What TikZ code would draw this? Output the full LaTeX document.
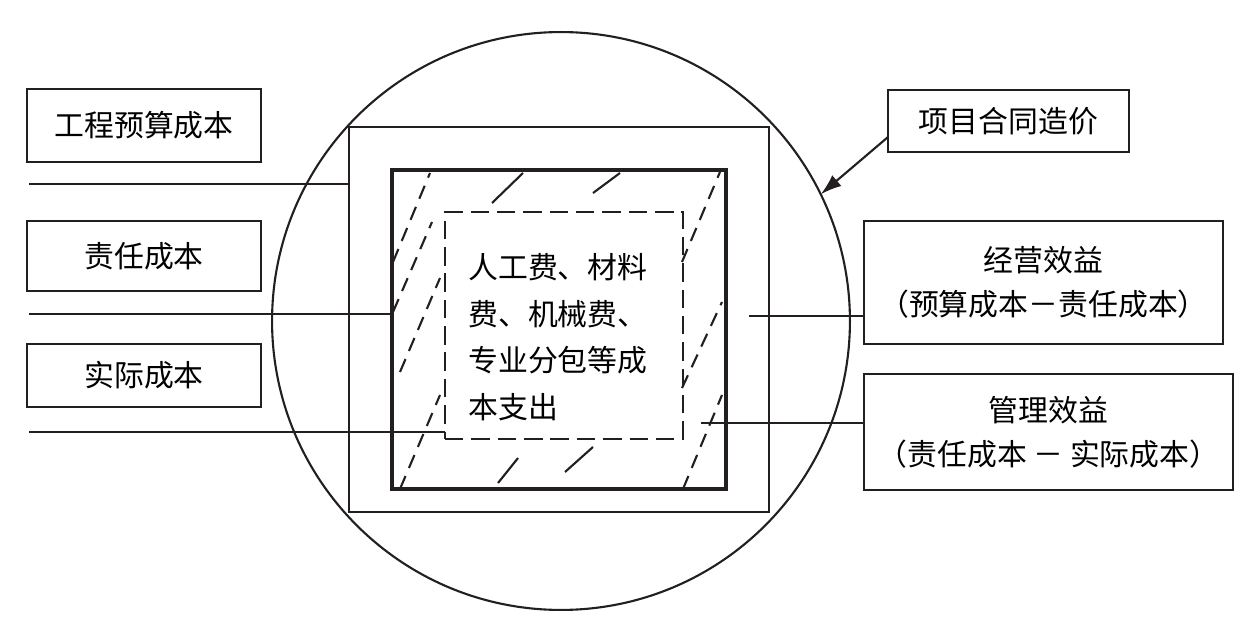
\documentclass[tikz,border=0pt]{standalone}
\usepackage{fontspec}
\setmainfont{Noto Sans CJK SC}
\usetikzlibrary{arrows.meta}
\definecolor{ink}{HTML}{231F20}
\tikzset{
  labelbox/.style={draw=ink, line width=1.2pt, inner sep=0pt, outer sep=0pt, align=center, font=\fontsize{17}{25}\selectfont},
  frame/.style={draw=ink, line width=1.2pt, inner sep=0pt, outer sep=0pt},
  link/.style={draw=ink, line width=1.2pt},
  hatch/.style={draw=ink, line width=1.2pt, dash pattern=on 8pt off 5pt},
}

\begin{document}
\begin{tikzpicture}[x=0.02cm, y=-0.02cm]
        \useasboundingbox (0,0) rectangle (1255,638);

        % circle and the three squares
        \node[frame, circle, minimum size=11.56cm] (circ) at (561,321) {};
        \node[frame, minimum width=8.4cm, minimum height=7.7cm] (outer) at (559,319.5) {};
        \node[frame, line width=2.5pt, minimum width=6.68cm, minimum height=6.38cm] (thick) at (559,329.5) {};
        \node[frame, dash pattern=on 10.5pt off 4.5pt, minimum width=4.76cm, minimum height=4.54cm] (spend) at (564,325.5) {};

        \node[anchor=west, align=left, inner sep=0pt, font=\fontsize{17}{26.5}\selectfont] (items) at (468,337) {人工费、材料\\费、机械费、\\专业分包等成\\本支出};

        % hatching between thick and dashed square
        \draw[hatch] (393,262) -- (430,173);
        \draw[hatch] (393,312) -- (432,222);
        \draw[hatch] (400,372) -- (440,278);
        \draw[hatch] (400,489) -- (440,395);
        \draw[hatch] (682,262) -- (720,172);
        \draw[hatch] (682,388) -- (722,302);
        \draw[hatch] (683,489) -- (722,395);
        \draw[link] (492,203) -- (523,173);
        \draw[link] (593,193) -- (620,173);
        \draw[link] (498,483) -- (518,458);
        \draw[link] (565,472) -- (593,447);

        % boxes
        \node[labelbox, minimum width=4.68cm, minimum height=1.46cm] (budget) at (144,125.5) {工程预算成本};
        \node[labelbox, minimum width=4.68cm, minimum height=1.40cm] (duty) at (144,256) {责任成本};
        \node[labelbox, minimum width=4.68cm, minimum height=1.26cm] (actual) at (144,375.5) {实际成本};
        \node[labelbox, minimum width=4.82cm, minimum height=1.24cm] (price) at (1008.5,121) {项目合同造价};
        \node[labelbox, minimum width=7.18cm, minimum height=2.46cm] (operate) at (1043.5,282.5) {经营效益\\（预算成本－责任成本）};
        \node[labelbox, minimum width=7.38cm, minimum height=2.32cm] (manage) at (1048.5,432) {管理效益\\（责任成本 － 实际成本）};

        % lines
        \coordinate (s1) at (29,184);
        \coordinate (s2) at (29,314);
        \coordinate (s3) at (29,432);
        \coordinate (e1) at (749,316);
        \coordinate (e2) at (701,423);

        \draw[link] (s1) -- (s1 -| outer.west);
        \draw[link] (s2) -- (s2 -| thick.west);
        \draw[link] (s3) -- (s3 -| spend.west);
        \draw[link] (e1) -- (e1 -| operate.west);
        \draw[link] (e2) -- (e2 -| manage.west);

        \draw[link, -{Latex[length=12pt,width=8pt]}] ([yshift=-0.32cm]price.west) -- (circ.26);

\end{tikzpicture}
\end{document}
